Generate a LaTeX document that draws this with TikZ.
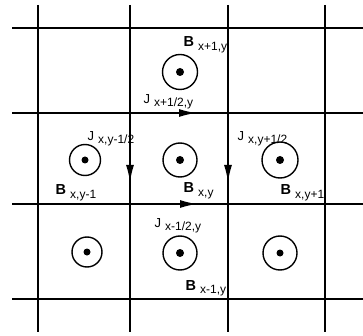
\documentclass[tikz,border=0pt]{standalone}
\usepackage{fontspec}
\setmainfont{Liberation Sans}
\usetikzlibrary{arrows.meta}
\newcommand{\bfld}[1]{{\fontsize{14.5}{14.5}\selectfont\bfseries B}\hspace{4pt}\raisebox{-3.5pt}{\fontsize{12}{12}\selectfont #1}}
\newcommand{\jcur}[1]{{\fontsize{13}{13}\selectfont J}\hspace{4pt}\raisebox{-3pt}{\fontsize{12}{12}\selectfont #1}}
\begin{document}
\begin{tikzpicture}[x=1pt, y=-1pt, line width=1.4pt,
    cell/.style={circle, draw, inner sep=0, minimum size=#1},
    dot/.style={circle, fill, inner sep=0, minimum size=#1},
    lab/.style={anchor=base west, inner sep=0},
    jarrow/.style={-{Latex[length=17pt, width=8pt]}}]
          \useasboundingbox (0,0) rectangle (363,336);
          % grid
          \draw[] (38,5) -- (38,332);
          \draw[] (130,5) -- (130,332);
          \draw[] (228,5) -- (228,332);
          \draw[] (325,5) -- (325,332);
          \draw[] (12,28) -- (363,28);
          \draw[] (12,113) -- (363,113);
          \draw[] (12,204) -- (363,204);
          \draw[] (12,299) -- (363,299);
          \coordinate (g21) at (130,113);
          \coordinate (g22) at (228,113);
          \coordinate (g31) at (130,204);
          % fields
          \node[cell=35] (btop) at (180,72){};
          \node[dot=8] (dtop) at (btop){};
          \node[cell=31] (bml) at (85,160){};
          \node[dot=7] (dml) at (bml){};
          \node[cell=34] (bmc) at (180,160){};
          \node[dot=8] (dmc) at (bmc){};
          \node[cell=36] (bmr) at (280,160){};
          \node[dot=8] (dmr) at (bmr){};
          \node[cell=30] (bbl) at (87,252){};
          \node[dot=7] (dbl) at (bbl){};
          \node[cell=34] (bbc) at (180,253){};
          \node[dot=8] (dbc) at (bbc){};
          \node[cell=34] (bbr) at (280,253){};
          \node[dot=7] (dbr) at (bbr){};
          % currents
          \coordinate (jtop) at (196,113);
          \coordinate (jbot) at (197,204);
          \coordinate (jleft) at (130,182);
          \coordinate (jright) at (228,182);
          \draw[jarrow] (g21) -- (jtop);
          \draw[jarrow] (g31) -- (jbot);
          \draw[jarrow] (g21) -- (jleft);
          \draw[jarrow] (g22) -- (jright);
          % labels
          \node[lab] (lbtop) at (183,47){\bfld{x+1,y}};
          \node[lab] (ljtop) at (143,104){\jcur{x+1/2,y}};
          \node[lab] (ljleft) at (87,141){\jcur{x,y-1/2}};
          \node[lab] (ljright) at (237,141){\jcur{x,y+1/2}};
          \node[lab] (lbml) at (55,195){\bfld{x,y-1}};
          \node[lab] (lbmc) at (183,193){\bfld{x,y}};
          \node[lab] (lbmr) at (280,195){\bfld{x,y+1}};
          \node[lab] (ljbot) at (154,227){\jcur{x-1/2,y}};
          \node[lab] (lbbot) at (185,290){\bfld{x-1,y}};
        \end{tikzpicture}
\end{document}
